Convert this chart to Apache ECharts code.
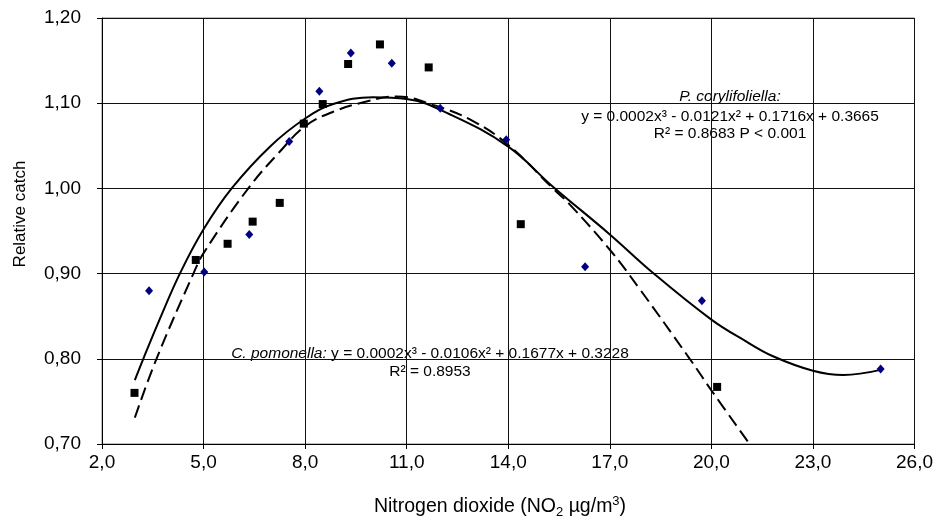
<!DOCTYPE html>
<html>
<head>
<meta charset="utf-8">
<script src="https://cdn.jsdelivr.net/npm/echarts@6/dist/echarts.min.js"></script>
<style>
html,body{margin:0;padding:0;background:#fff;}
#chart{width:938px;height:529px;}
</style>
</head>
<body>
<div id="chart"></div>
<script>
// C. pomonella observations (black squares)
const pomonellaX = [2.96, 4.77, 5.71, 6.45, 7.25, 7.96, 8.52, 9.27, 10.21, 11.65, 14.37, 20.17];
const pomonellaY = [0.760, 0.916, 0.935, 0.961, 0.983, 1.076, 1.099, 1.146, 1.169, 1.142, 0.958, 0.767];
// P. corylifoliella observations (blue diamonds)
const corylX = [3.39, 5.02, 6.35, 7.53, 8.42, 9.35, 10.56, 11.99, 13.94, 16.27, 19.72, 25.0];
const corylY = [0.880, 0.902, 0.946, 1.055, 1.114, 1.159, 1.147, 1.094, 1.057, 0.908, 0.868, 0.788];
// Polynomial trend lines
const corylTrendX = [2.97, 3.22, 3.7, 4.3, 5.0, 5.83, 6.96, 8.0, 8.83, 10.0, 11.0, 12.27, 14.0, 15.32, 17.0, 18.27, 20.0, 21.0, 21.82, 23.0, 23.9, 25.0];
const corylTrendY = [0.775, 0.800, 0.846, 0.900, 0.952, 1.000, 1.049, 1.082, 1.099, 1.107, 1.105, 1.087, 1.049, 1.002, 0.946, 0.901, 0.846, 0.821, 0.803, 0.786, 0.781, 0.787];
const pomTrendX = [2.97, 3.61, 4.70, 5.0, 6.32, 7.25, 8.0, 8.83, 9.81, 10.7, 11.78, 12.96, 14.0, 15.32, 15.82, 17.0, 17.88, 19.36, 20.0, 21.13];
const pomTrendY = [0.731, 0.800, 0.900, 0.924, 1.000, 1.043, 1.073, 1.090, 1.102, 1.108, 1.098, 1.079, 1.051, 1.000, 0.981, 0.928, 0.882, 0.800, 0.763, 0.700];
// Axis ticks
const xMin = 2, xMax = 26, xStep = 3;
const yMin = 0.70, yMax = 1.20, yStep = 0.10;
const xTitle = 'Nitrogen dioxide (NO{s|2}{a| µg/m}{p|3}{a|)}';
const yTitle = 'Relative catch';

const pairs = (xs, ys) => xs.map((x, i) => [x, ys[i]]);
const FONT = "'Liberation Sans', Arial, sans-serif";

const chart = echarts.init(document.getElementById('chart'), null, {renderer: 'canvas'});
chart.setOption({
  animation: false,
  backgroundColor: '#fff',
  textStyle: {fontFamily: FONT},
  grid: {left: 102, right: 23.5, top: 18, bottom: 85, show: true, borderColor: '#808080', borderWidth: 1},
  xAxis: {
    type: 'value', min: xMin, max: xMax, interval: xStep,
    axisLine: {show: true, lineStyle: {color: '#000', width: 1}},
    axisTick: {show: true, inside: false, length: 5, lineStyle: {color: '#000'}},
    axisLabel: {formatter: v => v.toFixed(1).replace('.', ','), fontSize: 19, color: '#000', margin: 9, fontFamily: FONT},
    splitLine: {show: true, lineStyle: {color: '#111', width: 1}}
  },
  yAxis: {
    type: 'value', min: yMin, max: yMax, interval: yStep,
    axisLine: {show: true, lineStyle: {color: '#000', width: 1}},
    axisTick: {show: true, inside: false, length: 5, lineStyle: {color: '#000'}},
    axisLabel: {formatter: v => v.toFixed(2).replace('.', ','), fontSize: 19, color: '#000', margin: 21, fontFamily: FONT},
    splitLine: {show: true, lineStyle: {color: '#111', width: 1}}
  },
  series: [
    {name: 'P. corylifoliella trend', type: 'line', data: pairs(corylTrendX, corylTrendY), smooth: 0.4, showSymbol: false, symbol: 'none',
     lineStyle: {color: '#000', width: 2}, z: 3},
    {name: 'C. pomonella trend', type: 'line', data: pairs(pomTrendX, pomTrendY), smooth: 0.4, showSymbol: false, symbol: 'none',
     lineStyle: {color: '#000', width: 2, type: [13, 6]}, z: 3},
    {name: 'C. pomonella', type: 'scatter', data: pairs(pomonellaX, pomonellaY), symbol: 'rect', symbolSize: 8,
     itemStyle: {color: '#000', opacity: 1}, z: 5},
    {name: 'P. corylifoliella', type: 'scatter', data: pairs(corylX, corylY), symbol: 'diamond', symbolSize: [8, 9],
     itemStyle: {color: '#000080', opacity: 1}, z: 5}
  ],
  graphic: [
    {type: 'text', x: 20, y: 214, rotation: Math.PI / 2,
     style: {text: yTitle, font: "17px " + FONT, fill: '#000', align: 'center', verticalAlign: 'middle'}},
    {type: 'text', x: 500, y: 507,
     style: {text: '{a|' + xTitle.replace('NO{s', 'NO}{s') , fill: '#000', align: 'center', verticalAlign: 'middle',
       rich: {
         a: {fontSize: 19.5, fontFamily: FONT, lineHeight: 24, fill: '#000'},
         s: {fontSize: 13, fontFamily: FONT, lineHeight: 13, verticalAlign: 'bottom', fill: '#000'},
         p: {fontSize: 13, fontFamily: FONT, lineHeight: 13, verticalAlign: 'top', fill: '#000'}
       }}},
    {type: 'text', x: 730, y: 97,
     style: {text: 'P. corylifoliella:', font: "italic 15.5px " + FONT, fill: '#000', align: 'center', verticalAlign: 'middle'}},
    {type: 'text', x: 730, y: 116.5,
     style: {text: 'y = 0.0002x³ - 0.0121x² + 0.1716x + 0.3665', font: "15.5px " + FONT, fill: '#000', align: 'center', verticalAlign: 'middle'}},
    {type: 'text', x: 730, y: 134,
     style: {text: 'R² = 0.8683 P < 0.001', font: "15.5px " + FONT, fill: '#000', align: 'center', verticalAlign: 'middle'}},
    {type: 'text', x: 430, y: 354,
     style: {text: '{i|C. pomonella:}{n| y = 0.0002x³ - 0.0106x² + 0.1677x + 0.3228}', fill: '#000', align: 'center', verticalAlign: 'middle',
       rich: {i: {fontStyle: 'italic', fontSize: 15.5, fontFamily: FONT, fill: '#000'}, n: {fontSize: 15.5, fontFamily: FONT, fill: '#000'}}}},
    {type: 'text', x: 430, y: 372,
     style: {text: 'R² = 0.8953', font: "15.5px " + FONT, fill: '#000', align: 'center', verticalAlign: 'middle'}}
  ]
});
</script>
</body>
</html>
